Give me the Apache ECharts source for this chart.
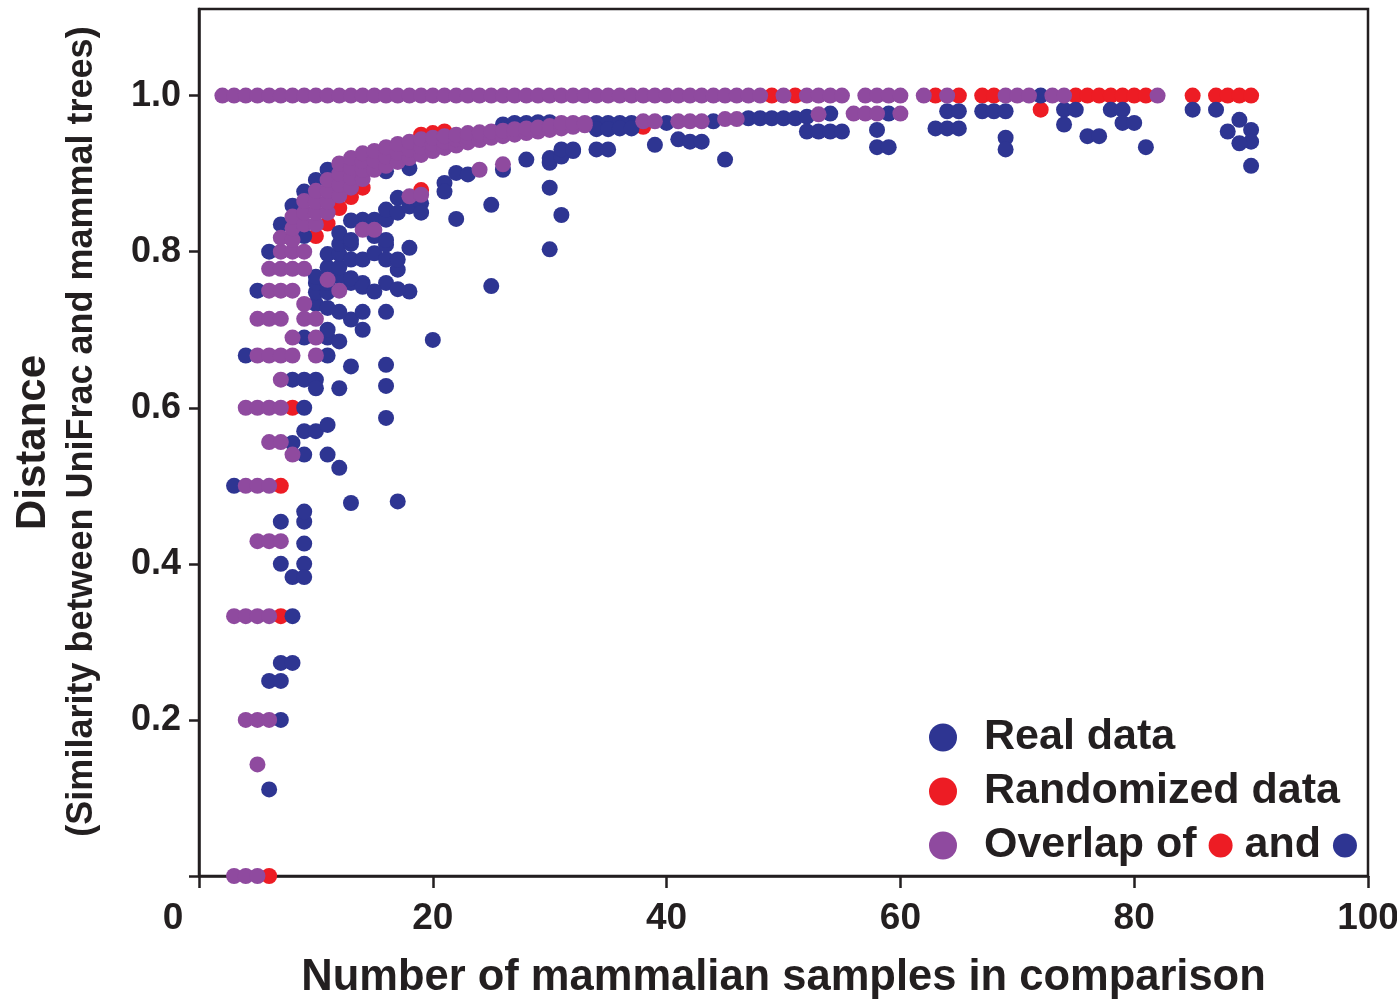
<!DOCTYPE html>
<html>
<head>
<meta charset="utf-8">
<script src="https://cdn.jsdelivr.net/npm/echarts@6/dist/echarts.min.js"></script>
<style>
  html, body { margin: 0; padding: 0; background: #ffffff; }
  #chart { width: 1397px; height: 1008px; }
</style>
</head>
<body>
<div id="chart"></div>
<script>
// ---------------- DATA ----------------
const xTicks = [0, 20, 40, 60, 80, 100];
const yTicks = [0, 0.2, 0.4, 0.6, 0.8, 1.0];

// Points at distance 1.0 (x values only)
const overlapTopX = [2,3,4,5,6,7,8,9,10,11,12,13,14,15,16,17,18,19,20,21,22,23,24,25,26,27,28,29,30,31,32,33,34,35,36,37,38,39,40,41,42,43,44,45,46,47,48,50,52,53,54,55,57,58,59,60,62,64,69,70,71,73,74,82];
const randomTopX = [49,51,63,65,67,68,75,76,77,78,79,80,81,85,87,88,89,90];
const realTopX = [72];

// Overlap (real and randomized identical)
const overlapLeft = [[3,0],[4,0],[5,0],[3,0.333],[4,0.333],[5,0.333],[6,0.333],[4,0.2],[5,0.2],[6,0.2],[5,0.143],
  [4,0.5],[5,0.5],[6,0.5],[5,0.429],[6,0.429],[7,0.429],[4,0.6],[5,0.6],[6,0.6],[7,0.6],[6,0.556],[7,0.556],[8,0.54],
  [5,0.667],[6,0.667],[7,0.667],[8,0.667],[10,0.667],[7,0.636],[5,0.714],[6,0.714],[7,0.714],[9,0.714],[10,0.714],
  [8,0.69],[10,0.69],[9,0.733],[6,0.75],[7,0.75],[8,0.75],[12,0.75],[11,0.764],[6,0.778],[7,0.778],[8,0.778],[9,0.778],
  [7,0.8],[8,0.8],[9,0.8],[7,0.818],[8,0.815]];
const overlapBand = [[8,0.83],[8,0.845],[9,0.835],[9,0.85],[9,0.865],[10,0.835],[10,0.85],[10,0.864],[10,0.878],
  [11,0.85],[11,0.864],[11,0.878],[11,0.892],[12,0.872],[12,0.886],[12,0.9],[12,0.913],[13,0.882],[13,0.895],[13,0.908],[13,0.92],
  [14,0.893],[14,0.905],[14,0.916],[14,0.926],[15,0.905],[15,0.917],[15,0.929],[16,0.91],[16,0.922],[16,0.934],
  [17,0.915],[17,0.927],[17,0.938],[18,0.92],[18,0.931],[18,0.941],[19,0.924],[19,0.934],[19,0.944],[20,0.929],[20,0.938],[20,0.946],
  [21,0.933],[21,0.941],[21,0.948],[22,0.936],[22,0.944],[22,0.95],[23,0.94],[23,0.947],[23,0.952],[24,0.943],[24,0.95],[24,0.953],
  [25,0.946],[25,0.954],[26,0.948],[26,0.955],[27,0.95],[27,0.957],[28,0.952],[28,0.958],[29,0.954],[29,0.959],[30,0.956],[30,0.961],
  [31,0.958],[31,0.962],[32,0.96],[33,0.962]];
const overlapOther = [[14,0.828],[15,0.828],[18,0.871],[19,0.873],[24,0.905],[26,0.912],
  [31,0.965],[32,0.965],[33,0.965],[38,0.967],[39,0.967],[41,0.967],[42,0.967],[43,0.967],[45,0.97],[46,0.97],
  [53,0.976],[56,0.977],[57,0.977],[58,0.977],[60,0.977]];

// Randomized data only
const randomPts = [[6,0],[7,0.333],[7,0.5],[8,0.6],[10,0.82],[11,0.836],[12,0.856],[13,0.87],[14,0.882],[19,0.879],
  [19,0.95],[20,0.952],[21,0.954],[38,0.96],[72,0.982]];

// Real data only
const realLeft = [[3,0.5],[4,0.667],[5,0.75],[6,0.8],[7,0.835],[8,0.859],[9,0.877],[10,0.892],[11,0.905],
  [6,0.111],[7,0.2],[6,0.25],[7,0.25],[7,0.273],[8,0.273],[8,0.333],[7,0.4],[9,0.4],[8,0.383],[9,0.383],[9,0.426],
  [7,0.454],[9,0.454],[9,0.467],[9,0.54],[11,0.54],[12,0.523],[8,0.555],[9,0.57],[10,0.57],[11,0.578],[9,0.6],
  [8,0.636],[9,0.636],[10,0.636],[10,0.625],[12,0.625],[16,0.628],[16,0.587],[13,0.653],[16,0.655],[11,0.667],
  [9,0.69],[11,0.69],[12,0.685],[20,0.687],[13,0.713],[14,0.7],[11,0.7],[12,0.723],[14,0.723],[16,0.723],
  [10,0.733],[11,0.728],[13,0.478],[17,0.48]];
const realCluster = [[10,0.748],[11,0.748],[18,0.749],[25,0.756],[10,0.76],[11,0.76],[13,0.76],[14,0.76],[16,0.76],
  [10,0.768],[12,0.768],[13,0.766],[14,0.755],[15,0.749],[17,0.752],[11,0.78],[12,0.78],[17,0.777],[11,0.797],[12,0.797],
  [13,0.79],[14,0.79],[15,0.798],[16,0.79],[17,0.79],[12,0.81],[13,0.81],[16,0.809],[18,0.805],[12,0.824],[13,0.815],
  [15,0.82],[16,0.815],[14,0.841],[15,0.841],[16,0.841],[16,0.854],[17,0.85],[17,0.869],[18,0.858],[19,0.862],
  [13,0.84],[19,0.85],[9,0.82],[16,0.903],[18,0.907],[22,0.901],[23,0.899],[26,0.905],[28,0.918],[30,0.914],[30,0.92],
  [31,0.922],[32,0.929],[21,0.888],[21,0.877],[22,0.842],[25,0.86],[30,0.882],[31,0.847],[30,0.803]];
const realRight = [[26,0.963],[27,0.965],[28,0.965],[29,0.966],[30,0.966],[34,0.965],[35,0.965],[36,0.965],[37,0.965],
  [34,0.957],[35,0.957],[36,0.958],[37,0.958],[40,0.965],[44,0.967],[47,0.971],[48,0.971],[49,0.971],[50,0.971],[51,0.971],
  [52,0.973],[54,0.977],[59,0.977],[31,0.931],[32,0.931],[34,0.931],[35,0.931],[39,0.937],[41,0.944],[42,0.941],[43,0.941],
  [45,0.918],[52,0.954],[53,0.954],[54,0.954],[55,0.954],[58,0.956],[58,0.934],[59,0.934],[64,0.98],[65,0.98],
  [63,0.958],[64,0.958],[65,0.958],[67,0.98],[68,0.98],[69,0.98],[69,0.946],[69,0.931],[74,0.982],[75,0.982],[74,0.963],
  [76,0.948],[77,0.948],[78,0.982],[79,0.982],[79,0.965],[80,0.965],[81,0.934],[85,0.982],[87,0.982],[89,0.969],
  [88,0.954],[90,0.956],[90,0.941],[89,0.939],[90,0.91]];

// ---------------- CHART ----------------
const FONT = '"Liberation Sans", Arial, Helvetica, sans-serif';
const INK = '#231f20';
const BLUE = '#2e3592', RED = '#ed1c24', PURPLE = '#8f4a9f';

const atOne = xs => xs.map(x => [x, 1.0]);
const overlapData = atOne(overlapTopX).concat(overlapLeft, overlapBand, overlapOther);
const randomData = atOne(randomTopX).concat(randomPts);
const realData = atOne(realTopX).concat(realLeft, realCluster, realRight);

const chart = echarts.init(document.getElementById('chart'), null, { renderer: 'canvas' });
chart.setOption({
  backgroundColor: '#ffffff',
  animation: false,
  textStyle: { fontFamily: FONT },
  grid: { left: 199, right: 29, top: 9, bottom: 132, show: true, borderColor: INK, borderWidth: 2.5,
          containLabel: false, outerBoundsMode: 'none' },
  legend: {
    orient: 'vertical', left: 929, top: 716, padding: 0, itemGap: 11, itemWidth: 28, itemHeight: 28,
    icon: 'circle', selectedMode: false,
    data: ['Real data', 'Randomized data', 'Overlap'],
    formatter: name => name === 'Overlap' ? 'Overlap of {r|} and {b|}' : name,
    textStyle: {
      fontFamily: FONT, fontSize: 43, fontWeight: 'bold', color: INK, lineHeight: 40, padding: [0, 0, 0, 22],
      rich: {
        r: { width: 24, height: 24, borderRadius: 12, backgroundColor: RED },
        b: { width: 24, height: 24, borderRadius: 12, backgroundColor: BLUE }
      }
    }
  },
  xAxis: {
    type: 'value', min: 0, max: 100, interval: 20,
    name: 'Number of mammalian samples in comparison', nameLocation: 'middle', nameGap: 77,
    nameTextStyle: { fontFamily: FONT, fontSize: 43.5, fontWeight: 'bold', color: INK, lineHeight: 50 },
    axisLine: { show: true, onZero: false, lineStyle: { color: INK, width: 2.5 } },
    axisTick: { show: true, inside: false, length: 12, lineStyle: { color: INK, width: 2.5 } },
    splitLine: { show: false },
    axisLabel: {
      customValues: xTicks, margin: 24, color: INK, fontFamily: FONT, fontSize: 37, fontWeight: 'bold',
      formatter: v => v === 0 ? '{z|0}' : String(v),
      rich: { z: { fontFamily: FONT, fontSize: 37, fontWeight: 'bold', color: INK, padding: [0, 52, 0, 0] } }
    }
  },
  yAxis: {
    type: 'value', min: 0, max: 1.111,
    name: '{a|Distance}\n{b|(Similarity between UniFrac and mammal trees)}',
    nameLocation: 'middle', nameRotate: 90, nameGap: 93,
    nameTextStyle: {
      color: INK,
      rich: {
        a: { fontFamily: FONT, fontSize: 42, fontWeight: 'bold', color: INK, lineHeight: 50, align: 'center' },
        b: { fontFamily: FONT, fontSize: 36, fontWeight: 'bold', color: INK, lineHeight: 48, align: 'center', padding: [0, 0, 0, 22] }
      }
    },
    axisLine: { show: true, onZero: false, lineStyle: { color: INK, width: 2.5 } },
    axisTick: { show: true, inside: false, length: 10, customValues: yTicks, lineStyle: { color: INK, width: 2.5 } },
    splitLine: { show: false },
    axisLabel: {
      customValues: yTicks.filter(v => v > 0), margin: 18, color: INK, fontFamily: FONT, fontSize: 36, fontWeight: 'bold',
      formatter: v => v.toFixed(1)
    }
  },
  series: [
    { name: 'Randomized data', type: 'scatter', symbol: 'circle', symbolSize: 16, data: randomData,
      itemStyle: { color: RED, opacity: 1 }, emphasis: { disabled: true }, z: 2 },
    { name: 'Real data', type: 'scatter', symbol: 'circle', symbolSize: 16, data: realData,
      itemStyle: { color: BLUE, opacity: 1 }, emphasis: { disabled: true }, z: 3 },
    { name: 'Overlap', type: 'scatter', symbol: 'circle', symbolSize: 16, data: overlapData,
      itemStyle: { color: PURPLE, opacity: 1 }, emphasis: { disabled: true }, z: 4 }
  ]
});
</script>
</body>
</html>
